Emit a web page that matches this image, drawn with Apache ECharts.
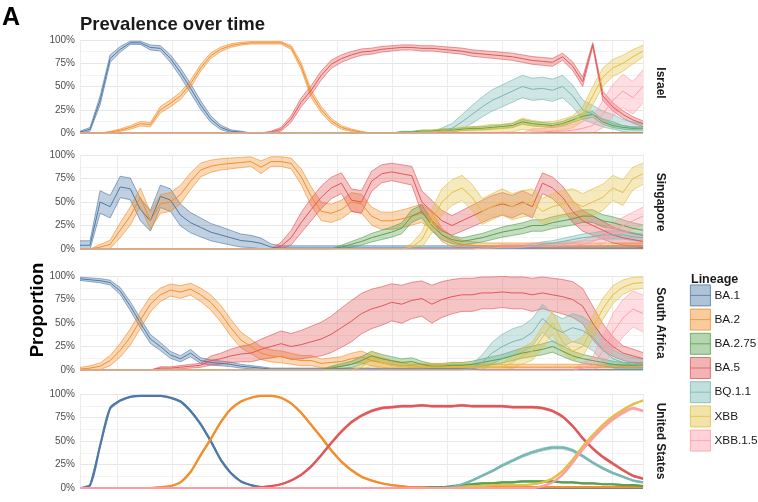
<!DOCTYPE html>
<html><head><meta charset="utf-8">
<script src="https://cdn.jsdelivr.net/npm/echarts@6/dist/echarts.min.js"></script>
<style>html,body{margin:0;padding:0;background:#fff}#c{width:758px;height:502px}</style>
</head><body><div id="c"></div>
<script>
const FONT = '"Liberation Sans", Arial, sans-serif';
const LINEAGES = ['BA.1','BA.2','BA.2.75','BA.5','BQ.1.1','XBB','XBB.1.5'];
const COLORS = ['#4E79A7','#F28E2B','#59A14F','#E15759','#76B7B2','#E2C043','#FF9DA7'];
const COUNTRIES = ['Israel','Singapore','South Africa','United States'];
const Y_TICKS = [0,25,50,75,100];
// time index (roughly weekly samples across the study period)
const TIME = [0,1,2,3,4,5,6,7,8,9,10,11,12,13,14,15,16,17,18,19,20,21,22,23,24,25,26,27,28,29,30,31,32,33,34,35,36,37,38,39,40,41,42,43,44,45,46,47,48,49,50,51,52,53,54,55,56];

// ---------- Israel (mean proportion, %) ----------
const IL_BA1 = [1,4,35,80,90,97,97,92,91,80, 65,48,30,15,6,2,1,0,0,0, 0,0,0,0,0,0,0,0,0,0, 0,0,0,0,0,0,0,0,0,0, 0,0,0,0,0,0,0,0,0,0, 0,0,0,0,0,0,0];
const IL_BA2 = [0,0,0,1,3,6,10,9,25,32, 40,53,70,83,90,94,96,97,97,97, 97,92,72,42,25,13,6,3,1,0, 0,0,0,0,0,0,0,0,0,0, 0,0,0,0,0,0,0,0,0,0, 0,0,0,0,0,0,0];
const IL_BA275 = [0,0,0,0,0,0,0,0,0,0, 0,0,0,0,0,0,0,0,0,0, 0,0,0,0,0,0,0,0,0,0, 0,0,1,1,2,2,3,3,4,5, 5,6,7,8,12,10,9,8,10,14, 18,20,12,8,6,5,5];
const IL_BA5 = [0,0,0,0,0,0,0,0,0,0, 0,0,0,0,0,0,0,0,0,1, 4,15,33,46,62,74,80,84,87,88, 90,91,92,92,91,91,90,89,88,86, 85,84,83,82,80,78,77,76,82,72, 55,95,40,28,20,14,10];
const IL_BQ11 = [0,0,0,0,0,0,0,0,0,0, 0,0,0,0,0,0,0,0,0,0, 0,0,0,0,0,0,0,0,0,0, 0,0,0,0,0,0,2,5,12,20, 28,35,40,45,50,47,48,46,50,40, 25,20,15,12,8,6,5];
const IL_XBB = [0,0,0,0,0,0,0,0,0,0, 0,0,0,0,0,0,0,0,0,0, 0,0,0,0,0,0,0,0,0,0, 0,0,0,0,1,1,2,2,3,3, 4,5,5,6,10,8,7,7,9,12, 20,40,60,70,75,82,88];
const IL_XBB15 = [0,0,0,0,0,0,0,0,0,0, 0,0,0,0,0,0,0,0,0,0, 0,0,0,0,0,0,0,0,0,0, 0,0,0,0,0,0,0,0,0,0, 0,0,0,0,0,1,1,2,2,3, 5,8,20,35,45,38,50];
const IL_HW = [5,4,4,5,12,10,18];

// ---------- Singapore ----------
const SG_BA1 = [4,4,50,45,66,64,42,30,56,52, 36,28,23,18,15,12,9,8,6,2, 1,1,1,1,1,1,1,1,1,1, 1,1,1,1,1,1,1,1,1,1, 1,1,1,1,1,1,1,1,1,1, 1,1,1,1,1,1,1];
const SG_BA2 = [0,0,2,5,20,35,55,30,48,50, 58,72,84,88,90,91,92,93,87,93, 93,91,77,56,40,38,42,50,48,35, 30,30,32,35,38,30,15,8,5,4, 3,3,3,3,3,3,3,3,3,3, 3,3,3,3,3,3,3];
const SG_BA275 = [0,0,0,0,0,0,0,0,0,0, 0,0,0,0,0,0,0,0,0,0, 0,0,0,0,0,0,2,5,8,12, 15,18,22,35,40,25,15,10,8,10, 12,15,18,20,22,25,25,28,30,32, 35,35,30,28,25,22,20];
const SG_BA5 = [0,0,0,0,0,0,0,0,0,0, 0,0,0,0,0,0,0,0,0,0, 3,12,28,42,55,65,70,52,50,72, 80,82,80,78,50,40,30,25,30,35, 40,45,48,45,50,45,70,65,55,40, 30,25,20,15,12,10,8];
const SG_BQ11 = [0,0,0,0,0,0,0,0,0,0, 0,0,0,0,0,0,0,0,0,0, 0,0,0,0,0,0,0,0,0,0, 0,0,0,0,0,0,0,0,0,0, 1,1,1,1,2,3,5,6,8,10, 12,13,15,15,15,13,12];
const SG_XBB = [0,0,0,0,0,0,0,0,0,0, 0,0,0,0,0,0,0,0,0,0, 0,0,0,0,0,0,0,0,0,0, 0,0,0,2,10,30,50,60,65,55, 40,45,50,45,48,50,40,45,48,50, 45,50,55,65,60,75,80];
const SG_XBB15 = [0,0,0,0,0,0,0,0,0,0, 0,0,0,0,0,0,0,0,0,0, 0,0,0,0,0,0,0,0,0,0, 0,0,0,0,0,0,0,0,0,0, 1,1,2,2,2,3,3,3,4,4, 5,8,12,20,25,30,35];
const SG_HW = [12,10,7,12,6,14,10];

// ---------- South Africa ----------
const SA_BA1 = [97,96,95,93,84,68,50,33,25,16, 12,18,10,8,7,6,4,3,2,1, 1,1,1,1,1,1,1,1,1,1, 1,1,1,1,1,1,1,1,1,1, 0,0,0,0,0,0,0,0,0,0, 0,0,0,0,0,0,0];
const SA_BA2 = [1,2,4,10,21,35,53,70,80,85, 83,86,80,72,60,45,32,25,18,15, 14,12,10,10,7,8,9,12,14,10, 8,5,4,3,3,3,3,3,3,3, 3,3,3,3,3,3,3,3,3,3, 3,3,3,3,3,3,3];
const SA_BA275 = [0,0,0,0,0,0,0,0,0,0, 0,0,0,0,0,0,0,0,0,0, 0,0,0,0,0,2,4,6,10,15, 12,10,8,9,6,4,4,5,5,6, 8,10,12,15,18,20,22,25,20,15, 12,10,8,6,5,5,5];
const SA_BA5 = [0,0,0,0,0,0,0,0,2,2, 3,4,5,10,12,15,17,18,22,25, 28,25,27,30,33,38,45,52,60,65, 68,72,70,74,76,70,75,78,80,80, 82,82,83,82,82,80,82,80,78,75, 68,50,35,25,18,15,12];
const SA_BA5_HW = [5,5,5,5,5,5,5,5,5,5, 5,5,5,8,9,10,11,12,13,14, 15,16,17,18,19,20,21,22,22,22, 22,22,22,22,22,22,22,22,22,22, 22,22,22,22,22,22,22,22,22,22, 20,18,15,12,10,10,10];
const SA_BQ11 = [0,0,0,0,0,0,0,0,0,0, 0,0,0,0,0,0,0,0,0,0, 0,0,0,0,0,0,0,0,0,0, 0,0,0,0,0,0,0,0,0,2, 8,18,25,30,33,40,55,45,40,45, 42,35,22,12,8,6,5];
const SA_XBB = [0,0,0,0,0,0,0,0,0,0, 0,0,0,0,0,0,0,0,0,0, 0,0,0,0,0,0,0,0,3,12, 8,5,4,3,3,3,3,3,3,3, 3,3,3,8,15,20,35,50,30,20, 25,45,65,80,88,92,93];
const SA_XBB15 = [0,0,0,0,0,0,0,0,0,0, 0,0,0,0,0,0,0,0,0,0, 0,0,0,0,0,0,0,0,0,0, 0,0,0,0,0,0,0,0,0,0, 0,0,0,0,0,0,0,0,0,0, 2,5,20,40,55,65,60];
const SA_HW = [5,9,7,SA_BA5_HW,15,12,20];

// ---------- United States ----------
const US_BA1 = [0,3,45,85,93,97,98,98,98,96, 92,82,68,50,30,16,7,3,1,0, 0,0,0,0,0,0,0,0,0,0, 0,0,0,0,0,0,0,0,0,0, 0,0,0,0,0,0,0,0,0,0, 0,0,0,0,0,0,0];
const US_BA2 = [0,0,0,0,0,0,0,0,1,2, 6,17,35,52,70,84,92,96,98,98, 96,90,80,67,54,40,28,19,12,8, 5,3,2,1,1,1,1,1,1,1, 1,1,1,1,1,1,1,1,1,1, 1,1,1,1,1,1,1];
const US_BA275 = [0,0,0,0,0,0,0,0,0,0, 0,0,0,0,0,0,0,0,0,0, 0,0,0,0,0,0,0,0,0,0, 0,0,0,0,0,1,1,2,3,4, 5,5,6,6,7,7,7,7,6,6, 5,5,4,4,3,3,2];
const US_BA5 = [0,0,0,0,0,0,0,0,0,0, 0,0,0,0,0,0,0,0,1,2, 4,8,14,23,35,48,60,70,77,82, 85,86,87,87,88,87,87,87,88,87, 87,87,87,86,86,86,85,82,76,66, 53,42,33,26,19,13,10];
const US_BQ11 = [0,0,0,0,0,0,0,0,0,0, 0,0,0,0,0,0,0,0,0,0, 0,0,0,0,0,0,0,0,0,0, 0,0,0,0,0,0,0,1,4,8, 13,18,24,29,34,38,41,43,43,40, 34,27,21,16,12,8,6];
const US_XBB = [0,0,0,0,0,0,0,0,0,0, 0,0,0,0,0,0,0,0,0,0, 0,0,0,0,0,0,0,0,0,0, 0,0,0,0,0,0,0,0,1,2, 2,3,3,3,3,4,6,10,18,30, 44,56,67,76,83,89,93];
const US_XBB15 = [0,0,0,0,0,0,0,0,0,0, 0,0,0,0,0,0,0,0,0,0, 0,0,0,0,0,0,0,0,0,0, 0,0,0,0,0,0,0,0,0,0, 0,0,0,0,0,0,2,6,14,27, 41,53,64,73,80,85,82];
const US_HW = [1.5,1.5,1.5,1.5,1.5,1.5,1.5];

const PANELS = [
  {means:[IL_BA1,IL_BA2,IL_BA275,IL_BA5,IL_BQ11,IL_XBB,IL_XBB15], hw:IL_HW},
  {means:[SG_BA1,SG_BA2,SG_BA275,SG_BA5,SG_BQ11,SG_XBB,SG_XBB15], hw:SG_HW},
  {means:[SA_BA1,SA_BA2,SA_BA275,SA_BA5,SA_BQ11,SA_XBB,SA_XBB15], hw:SA_HW},
  {means:[US_BA1,US_BA2,US_BA275,US_BA5,US_BQ11,US_XBB,US_XBB15], hw:US_HW}
];

const GRID_TOP = [40,155,276,394];
const GRID_H = [93,94,94,94];
const PLOT_LEFT = 80, PLOT_W = 563;

function rgba(hex, a){const n=parseInt(hex.slice(1),16);return `rgba(${n>>16},${(n>>8)&255},${n&255},${a})`;}

const series = [];
PANELS.forEach((p, pi) => {
  const lines = [];
  p.means.forEach((m, j) => {
    const col = COLORS[j];
    const h = p.hw[j];
    const band = m.map((v, k) => {
      const hk = Array.isArray(h) ? h[k] : h;
      const w = hk * Math.sqrt(v * (100 - v)) / 50;
      return [TIME[k], Math.max(0, v - w), Math.min(100, v + w)];
    });
    series.push({
      type:'custom', name:LINEAGES[j], xAxisIndex:pi*2, yAxisIndex:pi, silent:true,
      data: band, encode:{x:0, y:[1,2]}, clip:true,
      renderItem: (params, api) => {
        if (params.dataIndexInside !== 0) return null;
        const bot = band.map(d => api.coord([d[0], d[1]]));
        const top = band.map(d => api.coord([d[0], d[2]]));
        const poly = bot.concat(top.slice().reverse());
        return {type:'group', children:[
          {type:'polygon', shape:{points:poly}, style:{fill:rgba(col, 0.35), stroke:null}},
          {type:'polyline', shape:{points:bot}, style:{stroke:rgba(col,0.9), lineWidth:0.7, fill:null}},
          {type:'polyline', shape:{points:top}, style:{stroke:rgba(col,0.9), lineWidth:0.7, fill:null}}
        ]};
      }
    });
    lines.push({
      type:'line', name:LINEAGES[j], xAxisIndex:pi*2, yAxisIndex:pi, silent:true,
      data: m.map((v,k)=>[TIME[k], v]), symbol:'none',
      smooth: pi === 3 ? 0.3 : false,
      lineStyle:{color:col, width: pi === 3 ? 2.2 : 1}, itemStyle:{color:col}, z:3
    });
  });
  lines.forEach(s => series.push(s));
});

const xAxis = [], yAxis = [];
PANELS.forEach((p, pi) => {
  xAxis.push({type:'value', gridIndex:pi, min:TIME[0], max:TIME[TIME.length-1], show:true,
    axisLabel:{show:false}, axisTick:{show:false}, axisLine:{show:false}, splitLine:{show:false}});
  // vertical reference grid lines (date breaks)
  xAxis.push({type:'value', gridIndex:pi, min:-0.673, max:9.564, splitNumber:10,
    axisLabel:{show:false}, axisTick:{show:false}, axisLine:{show:false},
    splitLine:{show:true, lineStyle:{color:'#ececec', width:1}}});
  yAxis.push({type:'value', gridIndex:pi, min:Y_TICKS[0], max:Y_TICKS[Y_TICKS.length-1], interval:25,
    axisLabel:{formatter:'{value}%', color:'#4d4d4d', fontSize:10, fontFamily:FONT, margin:5},
    axisTick:{show:false}, axisLine:{show:false},
    splitLine:{lineStyle:{color:'#e6e6e6', width:1}},
    minorTick:{show:false, splitNumber:2},
    minorSplitLine:{show:true, lineStyle:{color:'#f3f3f3', width:1}}});
});

const graphic = [
  {type:'text', x:2, y:6, style:{text:'A', font:'bold 25px '+FONT, fill:'#000'}},
  {type:'text', x:38, y:310, rotation:Math.PI/2, style:{text:'Proportion', font:'bold 18.5px '+FONT, fill:'#000', align:'center', verticalAlign:'middle'}},
  {type:'text', x:691, y:280, style:{text:'Lineage', font:'bold 12.5px '+FONT, fill:'#1a1a1a', align:'left', verticalAlign:'middle'}}
];
const STRIP_Y = [83, 202, 323, 441];
COUNTRIES.forEach((c, i) => {
  graphic.push({type:'text', x:660, y:STRIP_Y[i], rotation:-Math.PI/2,
    style:{text:c, font:'bold 12px '+FONT, fill:'#1a1a1a', align:'center', verticalAlign:'middle'}});
});

const chart = echarts.init(document.getElementById('c'), null, {renderer:'canvas'});
chart.setOption({
  animation:false,
  backgroundColor:'#ffffff',
  title:{text:'Prevalence over time', left:80, top:15, padding:0,
    textStyle:{fontFamily:FONT, fontSize:18.5, fontWeight:'bold', color:'#1a1a1a'}},
  legend:{orient:'vertical', left:690, top:284.5, padding:0, itemWidth:20, itemHeight:21, itemGap:2.4,
    selectedMode:false,
    textStyle:{fontFamily:FONT, fontSize:11.8, color:'#1a1a1a', padding:[0,0,0,-1]},
    data: LINEAGES.map((n,j)=>({name:n, icon:'path://M0,0H20V21H0Z M0,10.5H20',
      itemStyle:{color:rgba(COLORS[j],0.45), borderColor:COLORS[j], borderWidth:0.8}}))},
  grid: PANELS.map((p,i)=>({left:PLOT_LEFT, width:PLOT_W, top:GRID_TOP[i], height:GRID_H[i]})),
  xAxis, yAxis, series, graphic
});
</script></body></html>
